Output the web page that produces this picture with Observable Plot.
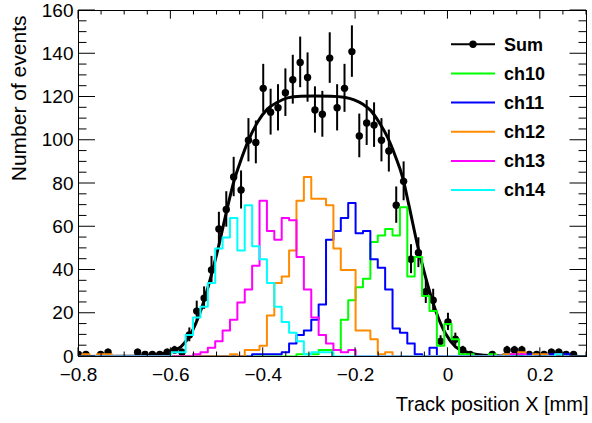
<!DOCTYPE html>
<html><head><meta charset="utf-8">
<script src="https://cdn.jsdelivr.net/npm/d3@7"></script>
<script src="https://cdn.jsdelivr.net/npm/@observablehq/plot@0.6"></script>
<style>
html,body{margin:0;padding:0;background:#fff;}
#chart svg{display:block;}
</style></head><body><div id="chart"></div>
<script>
// ---- histogram binning (125 bins over [-1,1]; bins shown from -0.8 to 0.3) ----
const binFirstCenter = -0.8;
const binWidth = 0.016;
const nBins = 70;

// ---- series values (counts per bin) ----
const sumCounts = [1,1,0,1,2,0,0,0,2,1, 1,1,2,3,2,10,21,27,40,59, 68,83,77,100,99,124,113,115,122,128, 136,129,114,112,138,115,124,141,102,108, 107,100,95,70,81,45,48,30,26,7, 16,8,3,1,0,0,1,0,3,3, 3,1,1,1,2,2,1,1,0,0];
const sumErrors = [1,1,0,1,1.4,0,0,0,1.4,1, 1,1,1.4,1.7,1.4,3.2,4.6,5.2,6.3,7.7, 8.2,9.1,8.8,10,9.9,11.1,10.6,10.7,11,11.3, 11.7,11.4,10.7,10.6,11.7,10.7,11.1,11.9,10.1,10.4, 10.3,10,9.7,8.4,9,6.7,6.9,5.5,5.1,2.6, 4,2.8,1.7,1,0,0,1,0,1.7,1.7, 1.7,1,1,1,1.4,1.4,1,1,0,0];
const ch10 = [0,0,0,0,0,0,0,0,0,0, 0,0,0,0,0,0,0,0,0,0, 0,0,0,0,0,0,0,0,0,0, 1,1,1,3,3,3,17,26,32,36, 53,56,59,56,69,37,46,28,21,5, 15,8,1,1,0,0,1,0,1,0, 0,0,0,0,0,0,0,0,0,0];
const ch11 = [0,0,0,0,0,0,0,0,0,0, 0,0,0,0,0,0,0,0,0,0, 0,0,0,0,1,1,1,1,2,6, 10,12,17,24,54,58,64,71,57,58, 45,41,31,13,11,6,1,0,4,0, 0,0,0,0,0,0,0,0,1,0, 0,1,0,0,1,0,1,0,0,0];
const ch12 = [0,1,0,1,1,0,0,0,0,0, 0,0,0,0,0,0,0,0,0,0, 0,1,0,3,3,5,19,34,37,49, 72,83,73,73,70,50,40,40,12,12, 8,1,2,0,0,0,0,0,0,0, 0,0,0,0,0,0,0,0,1,1, 2,0,1,1,0,0,0,0,0,0];
const ch13 = [0,0,0,0,0,0,0,0,0,0, 0,0,0,0,0,0,1,2,4,7, 12,17,25,31,42,72,58,54,64,63, 46,31,18,10,6,3,2,3,0,0, 0,0,0,0,0,0,0,0,0,0, 0,0,0,0,0,0,0,0,0,1, 1,0,0,0,0,1,0,0,0,0];
const ch14 = [0,0,0,0,0,0,0,0,0,0, 0,0,0,2,2,10,18,23,34,50, 55,64,49,70,51,45,34,23,16,11, 7,1,2,2,2,0,0,0,0,0, 0,0,0,0,0,0,0,0,0,0, 0,0,0,0,0,0,0,0,0,0, 0,0,0,0,0,1,0,0,0,0];

// ---- fitted curve ----
const fitX = [-0.8,-0.7,-0.65,-0.62,-0.6,-0.5785,-0.5568,-0.5352,-0.5135,-0.4955,-0.4774,-0.463,-0.4486,-0.4306,-0.4124,-0.3907,-0.3691,-0.3474,-0.3186,-0.2898,-0.2537,-0.2249,-0.2032,-0.185,-0.167,-0.1491,-0.1309,-0.1129,-0.0984,-0.0846,-0.0665,-0.0485,-0.0268,-0.005,0.0165,0.038,0.06,0.1,0.15,0.3];
const fitY = [0,0.1,0.4,1.2,2.5,4.5,10.5,21.3,36.7,52,69,81.4,90.6,100.6,108.3,114.5,117.6,119.6,120.4,120.5,120.4,119.9,118.7,116.8,113.7,108.3,101.4,92,83,70,52,36.7,21.3,10.5,4.5,2.2,1,0.3,0.1,0];

// ---- legend / labels ----
const seriesNames = ["ch10","ch11","ch12","ch13","ch14"];
const seriesColors = ["#00ff00","#0000ff","#ff8c00","#ff00ff","#00ffff"];
const xTickLabels = [-0.8,-0.6,-0.4,-0.2,0,0.2];
const yTickLabels = [0,20,40,60,80,100,120,140,160];
const xTitle = "Track position X [mm]";
const yTitle = "Number of events";

const rows = d3.range(nBins).map(i => ({
  x: binFirstCenter + binWidth * i,
  sum: sumCounts[i], err: sumErrors[i],
  ch10: ch10[i], ch11: ch11[i], ch12: ch12[i], ch13: ch13[i], ch14: ch14[i]
}));
const sumRows = rows.filter(d => d.sum > 0);
const fit = fitX.map((x, i) => ({x, y: fitY[i]}));

const FONT = "'Liberation Sans', Arial, Helvetica, sans-serif";
const fmtX = d => d === 0 ? "0" : d3.format(".1f")(d);

const chart = Plot.plot({
  width: 592, height: 423,
  marginLeft: 78, marginRight: 6, marginTop: 10, marginBottom: 67,
  style: {fontFamily: FONT, background: "#fff", overflow: "visible"},
  x: {domain: [-0.8, 0.3], axis: null},
  y: {domain: [0, 160], axis: null},
  marks: [
    Plot.line(fit, {x: "x", y: "y", curve: "monotone-x", stroke: "black", strokeWidth: 3, clip: true}),
    Plot.ruleX(sumRows, {x: "x", y1: d => d.sum - d.err, y2: d => d.sum + d.err, stroke: "black", strokeWidth: 2, clip: true}),
    Plot.dot(sumRows, {x: "x", y: "sum", r: 3.7, fill: "black", stroke: "none", clip: true}),
    ...seriesNames.map((name, k) =>
      Plot.line(rows, {x: "x", y: name, curve: "step", stroke: seriesColors[k], strokeWidth: 2, clip: true})),
    Plot.frame({stroke: "black", strokeWidth: 1}),
    Plot.text(xTickLabels, {x: d => d, y: 0, text: fmtX, dy: 10.5, lineAnchor: "top", textAnchor: "middle", fontSize: 19, fill: "black"}),
    Plot.text(yTickLabels, {x: -0.8, y: d => d, text: d => String(d), dx: -5, lineAnchor: "middle", textAnchor: "end", fontSize: 19, fill: "black"}),
    Plot.text([xTitle], {frameAnchor: "bottom-right", text: d => d, dx: 2, dy: 54.5, lineAnchor: "bottom", textAnchor: "end", fontSize: 20, fill: "black"}),
    Plot.text([yTitle], {frameAnchor: "top-left", text: d => d, rotate: -90, dx: -53, dy: 5, lineAnchor: "bottom", textAnchor: "end", fontSize: 21, fill: "black"})
  ]
});

// ---- inward ROOT-style ticks, placed with the plot's own scales ----
const sx = chart.scale("x"), sy = chart.scale("y");
const svg = d3.select(chart);
const g = svg.append("g").attr("stroke", "black").attr("stroke-width", 1);
const x0 = sx.apply(-0.8), x1 = sx.apply(0.3), y0 = sy.apply(0), y1 = sy.apply(160);
const xMinor = d3.range(0, 23).map(i => -0.8 + 0.05 * i);
xMinor.forEach((v, i) => {
  const px = sx.apply(v), L = (i % 4 === 0) ? 8.7 : 4.5;
  g.append("line").attr("x1", px).attr("x2", px).attr("y1", y0).attr("y2", y0 - L);
  g.append("line").attr("x1", px).attr("x2", px).attr("y1", y1).attr("y2", y1 + L);
});
const yMinor = d3.range(0, 33).map(i => 5 * i);
yMinor.forEach((v, i) => {
  const py = sy.apply(v), major = i % 4 === 0;
  g.append("line").attr("x1", x0).attr("x2", x0 + (major ? 17 : 8.5)).attr("y1", py).attr("y2", py);
  g.append("line").attr("x1", x1).attr("x2", x1 - (major ? 16.5 : 7.5)).attr("y1", py).attr("y2", py);
});

// ---- legend ----
const lg = svg.append("g").attr("font-family", FONT).attr("font-weight", "bold").attr("font-size", 18).attr("text-anchor", "start");
const legendItems = ["Sum", ...seriesNames];
const legendColors = ["black", ...seriesColors];
legendItems.forEach((name, k) => {
  const yy = 44.3 + k * 29.15;
  lg.append("line").attr("x1", 451).attr("x2", 495).attr("y1", yy).attr("y2", yy)
    .attr("stroke", legendColors[k]).attr("stroke-width", 2);
  if (k === 0) lg.append("circle").attr("cx", 473).attr("cy", yy).attr("r", 3.7).attr("fill", "black");
  lg.append("text").attr("x", 504).attr("y", yy + 6.4).attr("fill", "black").attr("text-anchor", "start").text(name);
});

document.getElementById("chart").appendChild(chart);
</script></body></html>
